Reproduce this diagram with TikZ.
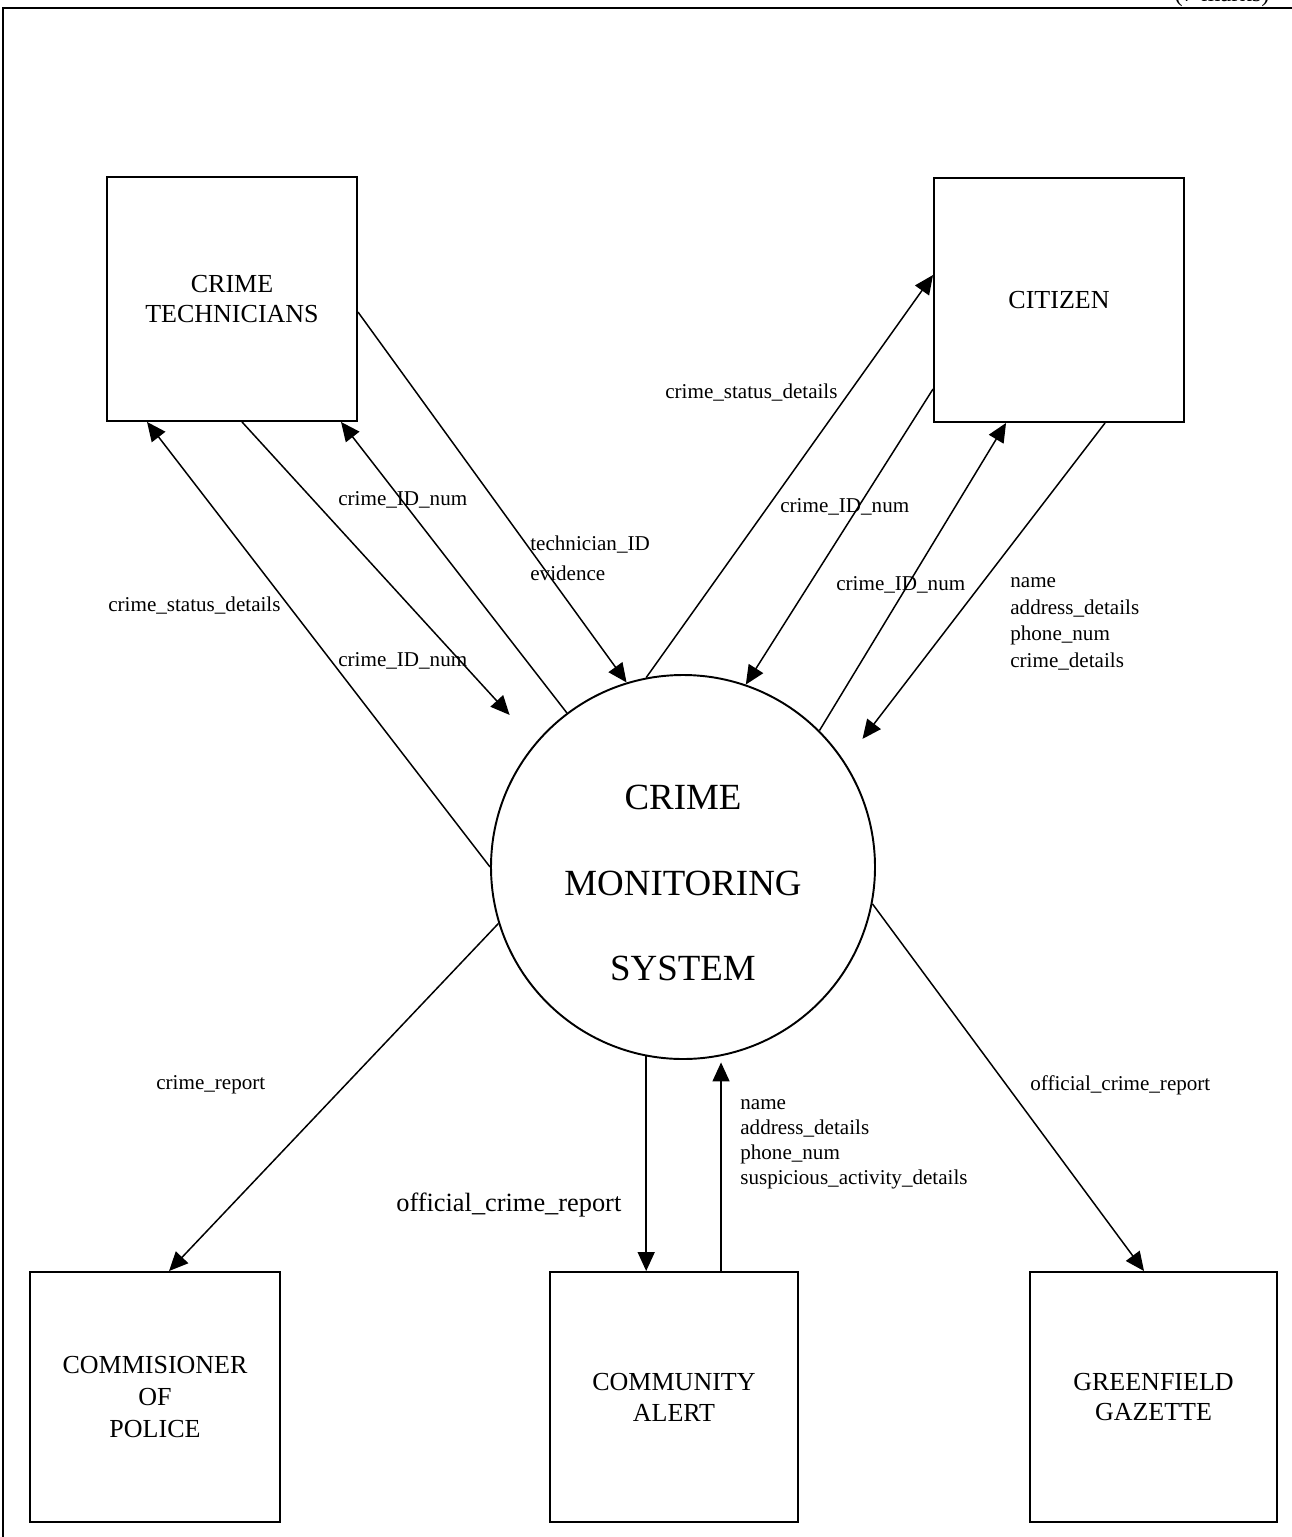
\documentclass[tikz,border=0pt]{standalone}
\usepackage{fontspec}
\setmainfont{Liberation Serif}
\usetikzlibrary{arrows.meta,calc,positioning}
\tikzset{
entity/.style={
  rectangle,
  line width=1.1pt,
  minimum width=5cm,
  minimum height=4.88cm,
  align=center,
  draw=black,
  font=\fontsize{14.8}{17.5}\selectfont,
  }
}
\tikzset{
process/.style={
  circle,
  line width=1.1pt,
  inner sep=0pt,
  minimum size=7.68cm,
  draw=black,
  },
processtext/.style={
  align=center,
  yshift=-0.32cm,
  font=\fontsize{21}{48.8}\selectfont,
  }
}
\tikzset{
flow/.style={
  line width=0.85pt,
  -{Triangle[length=3.8mm,width=3.4mm]}
  }
}
\tikzset{
flowlabel/.style={
  anchor=west,
  inner sep=0pt,
  align=left,
  font=\fontsize{12}{14.7}\selectfont,
  }
}

\begin{document}
\begin{tikzpicture}
    \useasboundingbox (0,0) rectangle (25.84,-30.74);
    % frame
    \draw[line width=1.7pt] (0.06,-30.74) -- (0.06,-0.16) -- (25.84,-0.16);
    \node[anchor=base east, inner sep=0pt, font=\fontsize{14}{16}\selectfont] (marks) at (25.4,-0.02) {(7 marks)};

    % process
    \node[process, label={[processtext]center:CRIME\\MONITORING\\SYSTEM}] (sys) at (13.66,-17.34) {};

    % external entities
    \node[entity] (tech) at (4.64,-5.98) {CRIME\\TECHNICIANS};
    \node[entity] (cit) at (21.18,-6.0) {CITIZEN};
    \node[entity, minimum height=5cm, font=\fontsize{14.8}{18.2}\selectfont] (cmp) at (3.1,-27.94) {COMMISIONER\\OF\\POLICE};
    \node[entity, minimum height=5cm, minimum width=4.96cm] (alert) at (13.48,-27.94) {COMMUNITY\\ALERT};
    \node[entity, minimum height=5cm, minimum width=4.94cm] (gaz) at (23.07,-27.94) {GREENFIELD\\GAZETTE};
    \coordinate (al_up) at ($(alert.north west)+(3.44,0)$);

    % crime technicians edges
    \draw[flow] ([yshift=-0.26cm]tech.east) -- (sys.107);
    \draw[flow] (sys.180) -- ($(tech.south west)+(0.82,0)$);
    \draw[flow, shorten >=0.76cm] ($(tech.south west)+(2.72,0)$) -- (sys.140);
    \draw[flow] (sys.127) -- ($(tech.south west)+(4.7,0)$);

    % citizen edges
    \draw[flow] (sys.101) -- ([yshift=0.5cm]cit.west);
    \draw[flow] ([yshift=-1.78cm]cit.west) -- (sys.71);
    \draw[flow] (sys.45) -- ($(cit.south west)+(1.46,0)$);
    \draw[flow, shorten >=0.58cm] ($(cit.south west)+(3.44,0)$) -- (sys.33);

    % lower edges
    \draw[flow] (sys.197) -- ($(cmp.north west)+(2.8,0)$);
    \draw[flow] (sys.259) -- (sys.259 |- alert.north);
    \draw[flow, shorten >=0.12cm] (al_up) -- (al_up |- sys.281);
    \draw[flow] (sys.349) -- ($(gaz.north west)+(2.3,0)$);

    % labels
    \node[flowlabel, font=\fontsize{12}{17}\selectfont] (l_tech) at (10.6,-11.16) {technician\_ID\\evidence};
    \node[flowlabel] (l_stat1) at (2.16,-12.12) {crime\_status\_details};
    \node[flowlabel] (l_id1) at (6.76,-10.0) {crime\_ID\_num};
    \node[flowlabel] (l_id2) at (6.76,-13.22) {crime\_ID\_num};
    \node[flowlabel] (l_stat2) at (13.3,-7.86) {crime\_status\_details};
    \node[flowlabel] (l_id3) at (15.6,-10.14) {crime\_ID\_num};
    \node[flowlabel] (l_id4) at (16.72,-11.7) {crime\_ID\_num};
    \node[flowlabel, font=\fontsize{12}{15.2}\selectfont] (l_cit) at (20.2,-12.48) {name\\address\_details\\phone\_num\\crime\_details};
    \node[flowlabel, font=\fontsize{12}{14.3}\selectfont] (l_alert) at (14.8,-22.88) {name\\address\_details\\phone\_num\\suspicious\_activity\_details};
    \node[flowlabel] (l_rep) at (3.12,-21.7) {crime\_report};
    \node[flowlabel, font=\fontsize{15}{18}\selectfont] (l_off1) at (7.92,-24.1) {official\_crime\_report};
    \node[flowlabel] (l_off2) at (20.6,-21.7) {official\_crime\_report};
\end{tikzpicture}
\end{document}
